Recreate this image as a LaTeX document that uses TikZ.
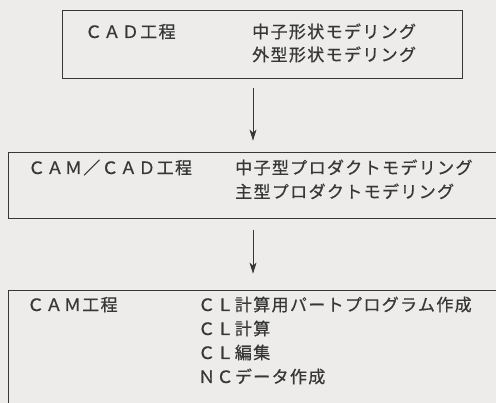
\documentclass[tikz,border=0pt]{standalone}
\usepackage{fontspec}
\usepackage{tikz}
\newfontfamily\jpfont[LetterSpace=8,FakeBold=0.6]{Noto Sans CJK JP}
\usetikzlibrary{arrows,arrows.meta,positioning,calc}
\definecolor{paper}{RGB}{237,236,235}
\definecolor{ink}{RGB}{55,55,55}

\begin{document}
\begin{tikzpicture}[x=1pt,y=-1pt,
  box/.style={draw=ink,line width=0.8pt,rectangle,inner sep=0pt},
  lbl/.style={anchor=base west,inner sep=0pt,text=ink,font=\jpfont\fontsize{17}{24}\selectfont},
  flow/.style={-{Stealth[length=11pt,width=7pt,inset=3pt]},draw=ink,line width=0.8pt}]
  \fill[paper] (0,0) rectangle (496,403);
  \useasboundingbox (0,0) rectangle (496,403);
  \clip (0,0) rectangle (496,403);
  % boxes
  \node[box,minimum width=400pt,minimum height=68pt] (cad) at (262,44) {};
  \node[box,minimum width=520pt,minimum height=66pt] (camcad) at (268,185) {};
  \node[box,minimum width=520pt,minimum height=150pt] (cam) at (268,365) {};
  % texts
  \node[lbl] (cadname) at (85,38) {ＣＡＤ工程};
  \node[lbl] (cadA) at (252,38) {中子形状モデリング};
  \node[lbl] (cadB) at (252,61) {外型形状モデリング};
  \node[lbl] (camcadname) at (28,174) {ＣＡＭ／ＣＡＤ工程};
  \node[lbl] (camcadA) at (235,174) {中子型プロダクトモデリング};
  \node[lbl] (camcadB) at (235,198) {主型プロダクトモデリング};
  \node[lbl] (camname) at (27,311) {ＣＡＭ工程};
  \node[lbl] (camA) at (198,311) {ＣＬ計算用パートプログラム作成};
  \node[lbl] (camB) at (198,335) {ＣＬ計算};
  \node[lbl] (camC) at (198,359) {ＣＬ編集};
  \node[lbl] (camD) at (198,383) {ＮＣデータ作成};
  % arrows
  \coordinate (ax) at (253,0);
  \draw[flow,shorten <=10pt,shorten >=11pt] (cad.south -| ax) -- (camcad.north -| ax);
  \draw[flow,shorten <=12pt,shorten >=16pt] (camcad.south -| ax) -- (cam.north -| ax);
\end{tikzpicture}
\end{document}
